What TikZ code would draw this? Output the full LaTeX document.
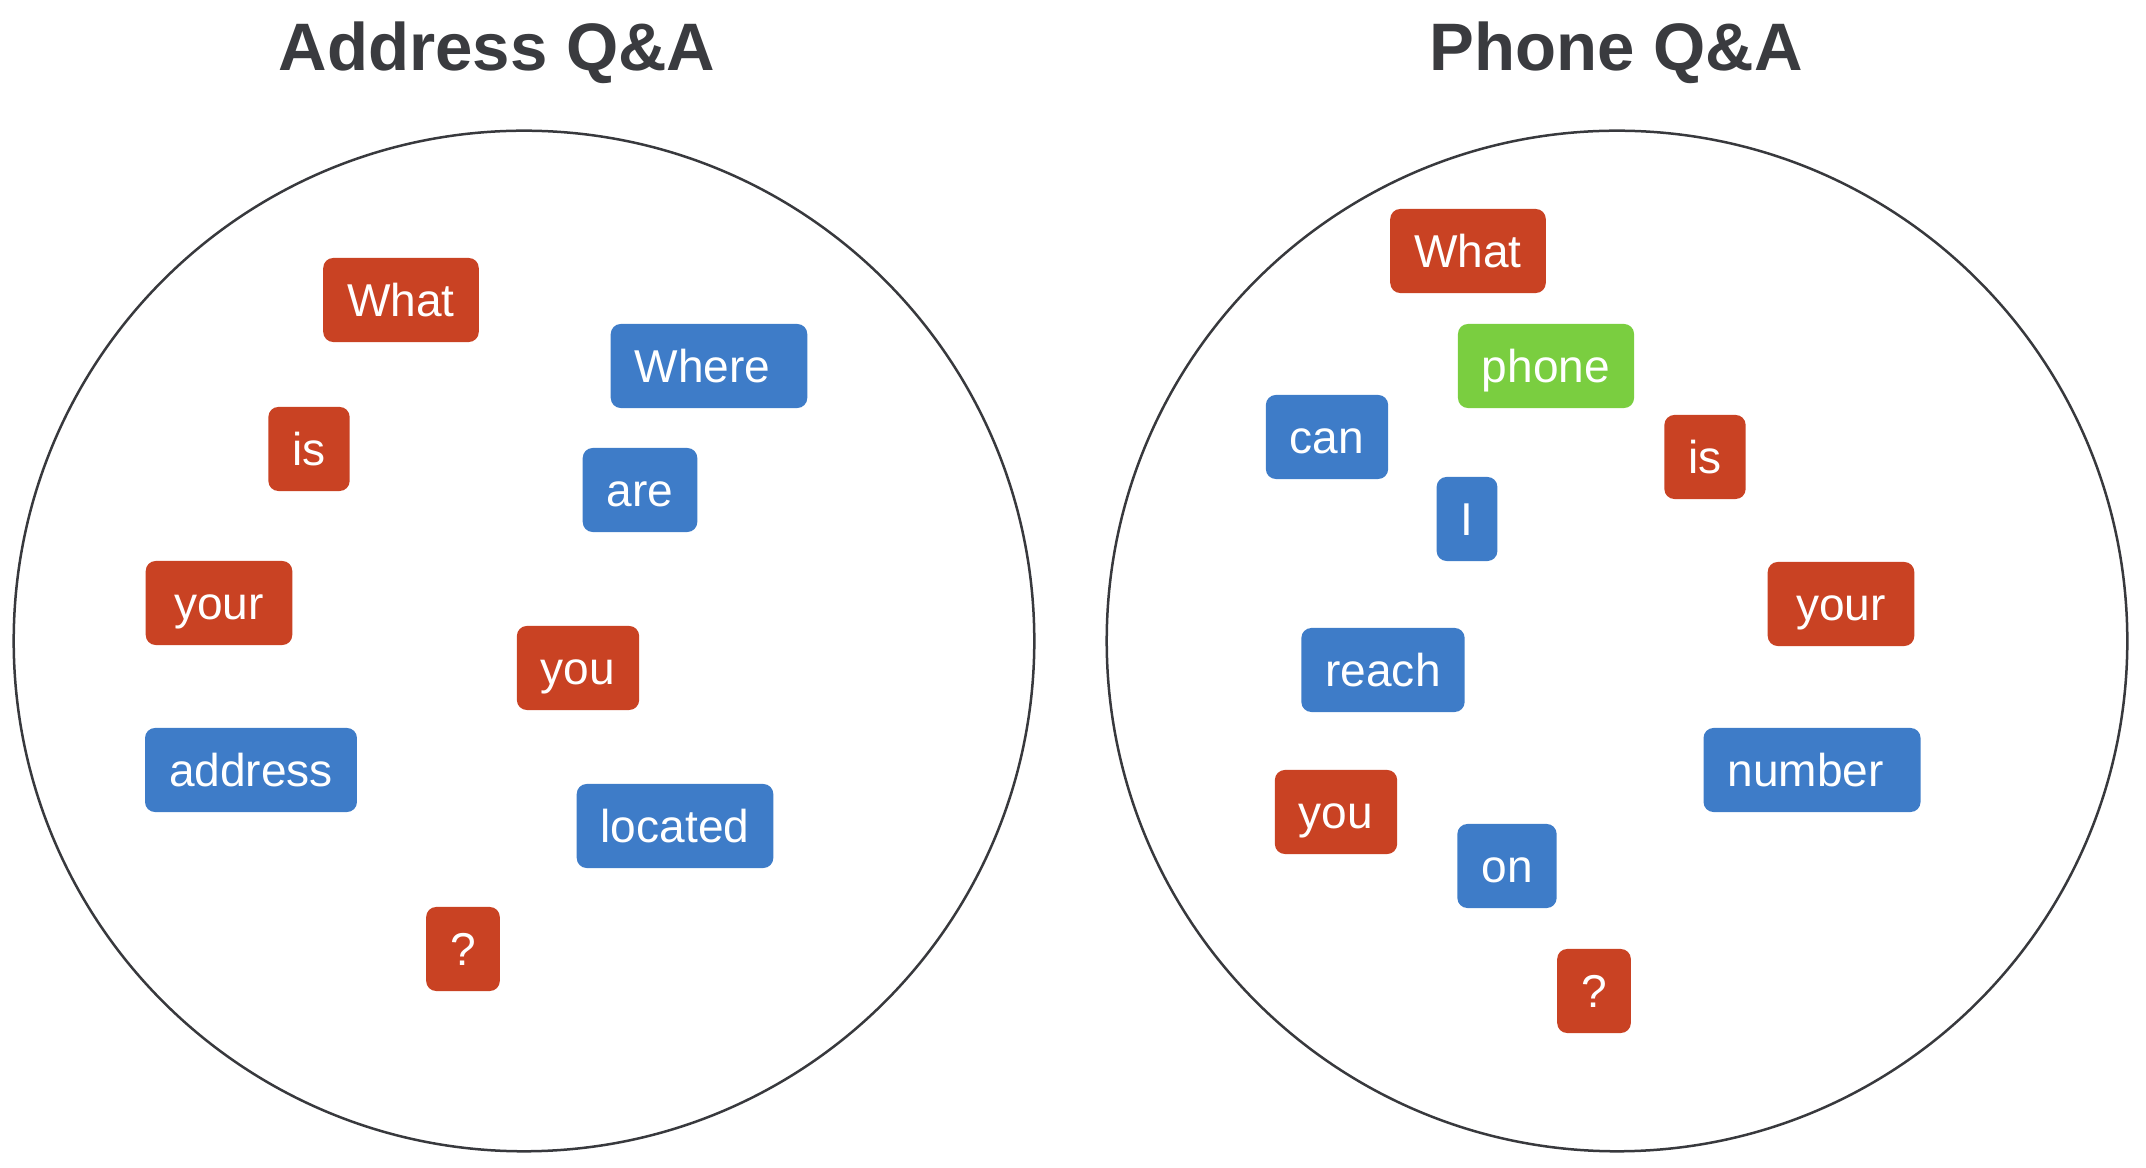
\documentclass[tikz,border=0pt]{standalone}
\usepackage{fontspec}
\setmainfont{Liberation Sans}
\usetikzlibrary{positioning}
\definecolor{wordred}{HTML}{C94223}
\definecolor{wordblue}{HTML}{3E7CC8}
\definecolor{wordgreen}{HTML}{7ACE40}
\definecolor{titlegray}{HTML}{3A3B3F}
\definecolor{ringgray}{HTML}{38393D}
\newcommand{\trailsp}{\kern0.128cm}

\begin{document}
\begin{tikzpicture}[x=0.01cm, y=-0.01cm,
    word/.style={rounded corners=0.1cm, text=white, inner xsep=0.24cm, inner ysep=0pt,
                 minimum height=0.84cm, text height=0.33cm, text depth=0cm,
                 font=\fontsize{13.1pt}{15pt}\selectfont},
    redword/.style={word, fill=wordred},
    blueword/.style={word, fill=wordblue},
    greenword/.style={word, fill=wordgreen},
    settitle/.style={anchor=base, text=titlegray, font=\fontsize{19.1pt}{22pt}\selectfont\bfseries}]
	\useasboundingbox (0,0) rectangle (2146,1168);

	% titles
	\node[settitle] (ta) at (497,71) {Address Q\&A};
	\node[settitle] (tp) at (1616,71) {Phone Q\&A};

	% the two sets
	\draw[ringgray, line width=0.025cm] (524,641) circle[radius=5.1cm];
	\draw[ringgray, line width=0.025cm] (1617,641) circle[radius=5.1cm];

	% address words
	\begin{scope}
		\node[redword] (a1) at (401,300) {What};
		\node[blueword] (a2) at (709,366) {Where\trailsp};
		\node[redword] (a3) at (309,449) {is};
		\node[blueword] (a4) at (640,490) {are};
		\node[redword, minimum width=1.465cm] (a5) at (219,603) {your};
		\node[redword] (a6) at (578,668) {you};
		\node[blueword] (a7) at (251,770) {address};
		\node[blueword] (a8) at (675,826) {located};
		\node[redword] (a9) at (463,949) {?};
	\end{scope}

	% phone words
	\begin{scope}
		\node[redword] (p1) at (1468,251) {What};
		\node[greenword] (p2) at (1546,366) {phone};
		\node[blueword] (p3) at (1327,437) {can};
		\node[redword] (p4) at (1705,457) {is};
		\node[blueword] (p5) at (1467,519) {I};
		\node[redword, minimum width=1.465cm] (p6) at (1841,604) {your};
		\node[blueword] (p7) at (1383,670) {reach};
		\node[blueword] (p8) at (1812,770) {number\trailsp};
		\node[redword] (p9) at (1336,812) {you};
		\node[blueword] (p10) at (1507,866) {on};
		\node[redword] (p11) at (1594,991) {?};
	\end{scope}
\end{tikzpicture}
\end{document}
